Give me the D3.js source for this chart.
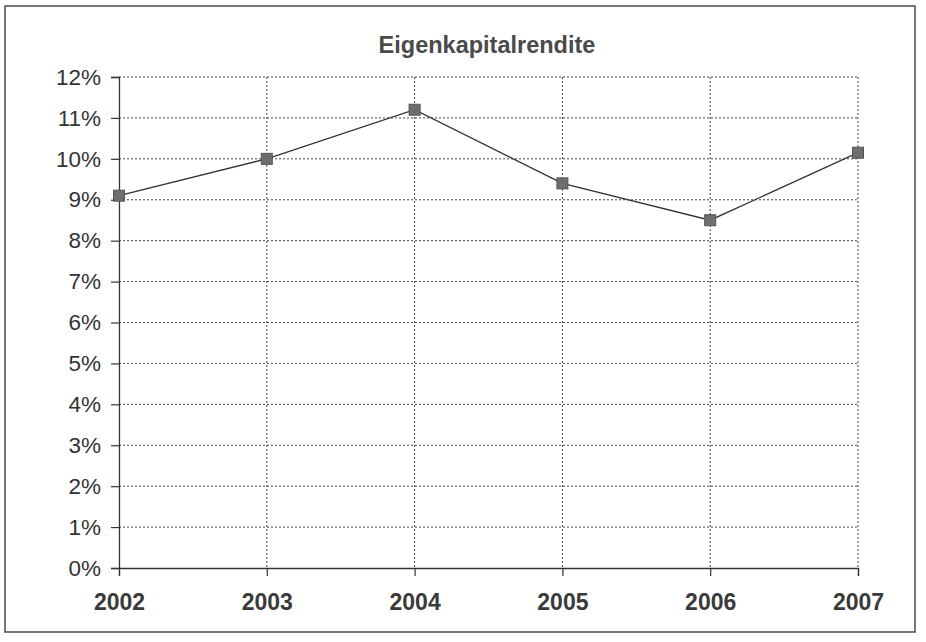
<!DOCTYPE html>
<html>
<head>
<meta charset="utf-8">
<script src="https://cdn.jsdelivr.net/npm/d3@7"></script>
<style>
  html, body { margin: 0; padding: 0; background: #fff; }
  svg { display: block; }
  text { font-family: "Liberation Sans", Arial, sans-serif; }
</style>
</head>
<body>
<svg id="chart" width="926" height="642"></svg>
<script>
// Return on equity per year (percent)
const years = ["2002", "2003", "2004", "2005", "2006", "2007"];
const returns = [9.1, 10.0, 11.2, 9.4, 8.5, 10.15];
const yTicks = [0, 1, 2, 3, 4, 5, 6, 7, 8, 9, 10, 11, 12];
const title = "Eigenkapitalrendite";

const svg = d3.select("#chart");
const W = 926, H = 642;
const margin = { left: 119, right: 68, top: 77, bottom: 74 };

// outer frame
svg.append("rect")
  .attr("x", 5).attr("y", 6)
  .attr("width", 910).attr("height", 626)
  .attr("fill", "#fff")
  .attr("stroke", "#555").attr("stroke-width", 1.6);

const x = d3.scalePoint()
  .domain(years)
  .range([margin.left, W - margin.right]);

const y = d3.scaleLinear()
  .domain([0, 12])
  .range([H - margin.bottom, margin.top]);

// title
svg.append("text")
  .attr("x", 487).attr("y", 53)
  .attr("text-anchor", "middle")
  .attr("font-size", "23.5px")
  .attr("font-weight", "bold")
  .attr("fill", "#4a4a4a")
  .text(title);

// horizontal gridlines
svg.append("g")
  .selectAll("line")
  .data(yTicks.filter(d => d > 0))
  .join("line")
  .attr("x1", margin.left).attr("x2", W - margin.right)
  .attr("y1", d => y(d)).attr("y2", d => y(d))
  .attr("stroke", "#444").attr("stroke-width", 1)
  .attr("stroke-dasharray", "2,2");

// vertical gridlines
svg.append("g")
  .selectAll("line")
  .data(years.slice(1))
  .join("line")
  .attr("x1", d => x(d)).attr("x2", d => x(d))
  .attr("y1", y(12)).attr("y2", y(0))
  .attr("stroke", "#444").attr("stroke-width", 1)
  .attr("stroke-dasharray", "2,2");

// y axis
const yAxis = svg.append("g")
  .attr("transform", `translate(${margin.left},0)`)
  .call(d3.axisLeft(y)
    .tickValues(yTicks)
    .tickFormat(d => d + "%")
    .tickSize(8)
    .tickPadding(10));
yAxis.select(".domain").attr("stroke", "#333").attr("stroke-width", 1.3);
yAxis.selectAll(".tick line").attr("stroke", "#333").attr("stroke-width", 1.2);
yAxis.selectAll(".tick text")
  .attr("font-size", "22.5px")
  .attr("font-family", "'Liberation Sans', Arial, sans-serif")
  .attr("fill", "#333");

// x axis
const xAxis = svg.append("g")
  .attr("transform", `translate(0,${y(0)})`)
  .call(d3.axisBottom(x)
    .tickSize(8)
    .tickPadding(18));
xAxis.select(".domain").attr("stroke", "#333").attr("stroke-width", 1.3);
xAxis.selectAll(".tick line").attr("stroke", "#333").attr("stroke-width", 1.2);
xAxis.selectAll(".tick text")
  .attr("font-size", "23px")
  .attr("font-weight", "bold")
  .attr("font-family", "'Liberation Sans', Arial, sans-serif")
  .attr("fill", "#3a3a3a");

// data line
const points = years.map((yr, i) => [x(yr), y(returns[i])]);
svg.append("path")
  .attr("d", d3.line()(points))
  .attr("fill", "none")
  .attr("stroke", "#333")
  .attr("stroke-width", 1.3);

// square markers
const s = 11;
svg.append("g")
  .selectAll("rect")
  .data(years)
  .join("rect")
  .attr("x", (d) => x(d) - s / 2)
  .attr("y", (d, i) => y(returns[i]) - s / 2)
  .attr("width", s).attr("height", s)
  .attr("fill", "#6e6e6e")
  .attr("stroke", "#555").attr("stroke-width", 1);
</script>
</body>
</html>
